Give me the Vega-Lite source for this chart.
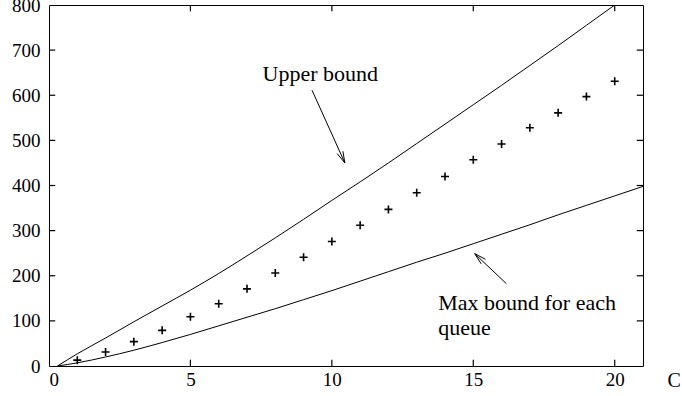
{
  "$schema": "https://vega.github.io/schema/vega-lite/v6.json",
  "width": 594,
  "height": 361,
  "autosize": {"type": "none"},
  "padding": {"left": 49, "top": 5, "right": 39, "bottom": 30},
  "background": "white",
  "config": {
    "view": {"stroke": null},
    "axis": {
      "grid": false,
      "domainColor": "black",
      "domainWidth": 1,
      "labelColor": "black",
      "labelFont": "Liberation Serif",
      "labelFontSize": 19,
      "titleFont": "Liberation Serif",
      "titleColor": "black"
    }
  },
  "datasets": {
    "curves": [
      {"series": "upper", "C": 0.3, "v": 0},
      {"series": "upper", "C": 1, "v": 27},
      {"series": "upper", "C": 2, "v": 62},
      {"series": "upper", "C": 3, "v": 98},
      {"series": "upper", "C": 4, "v": 133},
      {"series": "upper", "C": 5, "v": 168},
      {"series": "upper", "C": 6, "v": 205},
      {"series": "upper", "C": 7, "v": 244},
      {"series": "upper", "C": 8, "v": 284},
      {"series": "upper", "C": 9, "v": 325},
      {"series": "upper", "C": 10, "v": 367},
      {"series": "upper", "C": 11, "v": 408},
      {"series": "upper", "C": 12, "v": 450},
      {"series": "upper", "C": 13, "v": 493},
      {"series": "upper", "C": 14, "v": 536},
      {"series": "upper", "C": 15, "v": 579},
      {"series": "upper", "C": 16, "v": 622},
      {"series": "upper", "C": 17, "v": 666},
      {"series": "upper", "C": 18, "v": 710},
      {"series": "upper", "C": 19, "v": 755},
      {"series": "upper", "C": 20, "v": 800},
      {"series": "upper", "C": 21, "v": 845},
      {"series": "lower", "C": 0.3, "v": 0},
      {"series": "lower", "C": 1, "v": 7},
      {"series": "lower", "C": 2, "v": 20},
      {"series": "lower", "C": 3, "v": 35},
      {"series": "lower", "C": 4, "v": 52},
      {"series": "lower", "C": 5, "v": 70},
      {"series": "lower", "C": 6, "v": 89},
      {"series": "lower", "C": 7, "v": 108},
      {"series": "lower", "C": 8, "v": 127},
      {"series": "lower", "C": 9, "v": 147},
      {"series": "lower", "C": 10, "v": 167},
      {"series": "lower", "C": 11, "v": 188},
      {"series": "lower", "C": 12, "v": 209},
      {"series": "lower", "C": 13, "v": 230},
      {"series": "lower", "C": 14, "v": 250},
      {"series": "lower", "C": 15, "v": 271},
      {"series": "lower", "C": 16, "v": 292},
      {"series": "lower", "C": 17, "v": 313},
      {"series": "lower", "C": 18, "v": 335},
      {"series": "lower", "C": 19, "v": 356},
      {"series": "lower", "C": 20, "v": 377},
      {"series": "lower", "C": 21, "v": 398}
    ],
    "pts": [
      {"C": 1, "v": 13}, {"C": 2, "v": 31}, {"C": 3, "v": 54}, {"C": 4, "v": 79},
      {"C": 5, "v": 109}, {"C": 6, "v": 138}, {"C": 7, "v": 171}, {"C": 8, "v": 206},
      {"C": 9, "v": 241}, {"C": 10, "v": 276}, {"C": 11, "v": 312}, {"C": 12, "v": 347},
      {"C": 13, "v": 384}, {"C": 14, "v": 420}, {"C": 15, "v": 457}, {"C": 16, "v": 492},
      {"C": 17, "v": 528}, {"C": 18, "v": 561}, {"C": 19, "v": 597}, {"C": 20, "v": 631}
    ],
    "arrows": [
      {"x": 9.30, "y": 611, "x2": 10.46, "y2": 450},
      {"x": 10.46, "y": 450, "x2": 10.39, "y2": 476},
      {"x": 10.46, "y": 450, "x2": 10.19, "y2": 470.5},
      {"x": 16.17, "y": 182.5, "x2": 15.05, "y2": 249},
      {"x": 15.05, "y": 249, "x2": 15.28, "y2": 226.4},
      {"x": 15.05, "y": 249, "x2": 15.43, "y2": 236.4}
    ],
    "notes": [
      {"x": 7.55, "y": 631.7, "text": "Upper bound"},
      {"x": 13.76, "y": 124.8, "text": "Max bound for each"},
      {"x": 13.76, "y": 67.8, "text": "queue"}
    ],
    "xticks": [{"val": 5}, {"val": 10}, {"val": 15}, {"val": 20}],
    "yticks": [{"val": 100}, {"val": 200}, {"val": 300}, {"val": 400}, {"val": 500}, {"val": 600}, {"val": 700}]
  },
  "layer": [
    {
      "data": {"name": "curves"},
      "mark": {"type": "line", "color": "black", "strokeWidth": 1, "interpolate": "monotone", "clip": true},
      "encoding": {
        "x": {
          "field": "C", "type": "quantitative",
          "scale": {"domain": [0, 21], "nice": false, "zero": false},
          "axis": {
            "orient": "bottom", "values": [0, 5, 10, 15, 20], "ticks": false, "labelPadding": 4,
            "title": "C", "titleFontSize": 20, "titleFontWeight": "normal",
            "titleX": 618, "titleY": 20.5, "titleAlign": "left", "titleBaseline": "alphabetic"
          }
        },
        "y": {
          "field": "v", "type": "quantitative",
          "scale": {"domain": [0, 800], "nice": false},
          "axis": {
            "orient": "left", "values": [0, 100, 200, 300, 400, 500, 600, 700, 800],
            "ticks": false, "labelPadding": 9, "title": null
          }
        },
        "detail": {"field": "series"}
      }
    },
    {
      "data": {"name": "pts"},
      "mark": {"type": "point", "shape": "M-1,0L1,0M0,-1L0,1", "filled": false, "stroke": "black", "strokeWidth": 1.6, "size": 64, "opacity": 1},
      "encoding": {
        "x": {
          "field": "C", "type": "quantitative",
          "axis": {"orient": "top", "ticks": false, "labels": false, "title": null}
        },
        "y": {
          "field": "v", "type": "quantitative",
          "axis": {"orient": "right", "ticks": false, "labels": false, "title": null}
        }
      }
    },
    {
      "data": {"name": "arrows"},
      "mark": {"type": "rule", "color": "black", "strokeWidth": 1},
      "encoding": {
        "x": {"field": "x", "type": "quantitative", "axis": null},
        "y": {"field": "y", "type": "quantitative", "axis": null},
        "x2": {"field": "x2"},
        "y2": {"field": "y2"}
      }
    },
    {
      "data": {"name": "xticks"},
      "mark": {"type": "rule", "color": "black", "strokeWidth": 1.2},
      "encoding": {
        "x": {"field": "val", "type": "quantitative", "axis": null},
        "y": {"datum": 0, "type": "quantitative", "axis": null},
        "y2": {"datum": 14}
      }
    },
    {
      "data": {"name": "xticks"},
      "mark": {"type": "rule", "color": "black", "strokeWidth": 1.2},
      "encoding": {
        "x": {"field": "val", "type": "quantitative", "axis": null},
        "y": {"datum": 800, "type": "quantitative", "axis": null},
        "y2": {"datum": 786}
      }
    },
    {
      "data": {"name": "yticks"},
      "mark": {"type": "rule", "color": "black", "strokeWidth": 1.2},
      "encoding": {
        "y": {"field": "val", "type": "quantitative", "axis": null},
        "x": {"datum": 0, "type": "quantitative", "axis": null},
        "x2": {"datum": 0.22}
      }
    },
    {
      "data": {"name": "yticks"},
      "mark": {"type": "rule", "color": "black", "strokeWidth": 1.2},
      "encoding": {
        "y": {"field": "val", "type": "quantitative", "axis": null},
        "x": {"datum": 21, "type": "quantitative", "axis": null},
        "x2": {"datum": 20.78}
      }
    },
    {
      "data": {"name": "notes"},
      "mark": {"type": "text", "font": "Liberation Serif", "fontSize": 22, "align": "left", "baseline": "alphabetic", "color": "black"},
      "encoding": {
        "x": {"field": "x", "type": "quantitative", "axis": null},
        "y": {"field": "y", "type": "quantitative", "axis": null},
        "text": {"field": "text"}
      }
    }
  ],
  "resolve": {"axis": {"x": "independent", "y": "independent"}}
}
